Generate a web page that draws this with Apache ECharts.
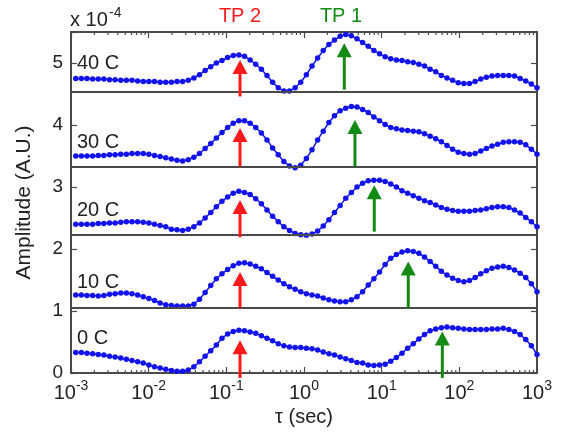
<!DOCTYPE html>
<html><head><meta charset="utf-8">
<script src="https://cdn.jsdelivr.net/npm/echarts@6/dist/echarts.min.js"></script>
<style>html,body{margin:0;padding:0;background:#fff}#c{width:563px;height:438px}</style>
</head><body><div id="c"></div>
<script>
// ---- data ----
const temps = ['0 C', '10 C', '20 C', '30 C', '40 C'];
// log-uniform sampling grid of tau (sec): 83 points from 10^-2.939 to 10^3
const tauGrid = Array.from({length: 83}, (_, i) => Math.pow(10, -2.939 + i * (5.939 / 82)));

const amp0C = [0.33,0.33,0.32,0.31,0.30,0.29,0.27,0.26,0.24,0.22,0.20,0.18,0.16,0.13,0.10,0.08,0.06,0.04,0.03,0.03,0.05,
  0.10,0.18,0.27,0.36,0.45,0.56,0.63,0.67,0.69,0.68,0.66,0.64,0.60,0.56,0.52,0.47,0.44,0.42,0.41,0.41,0.40,0.39,0.37,0.34,0.31,0.29,0.26,0.23,0.20,0.17,0.16,0.13,0.12,0.13,0.14,0.19,0.25,0.32,0.40,0.47,0.55,0.62,0.68,0.71,0.73,0.74,0.73,0.72,0.71,0.70,0.70,0.70,0.70,0.71,0.71,0.72,0.70,0.67,0.62,0.54,0.44,0.30];
const amp10C = [1.26,1.26,1.25,1.25,1.24,1.25,1.27,1.28,1.29,1.29,1.28,1.26,1.23,1.20,1.17,1.13,1.10,1.09,1.08,1.08,1.08,
  1.11,1.19,1.30,1.41,1.52,1.60,1.67,1.73,1.77,1.78,1.76,1.72,1.68,1.62,1.56,1.50,1.44,1.39,1.35,1.31,1.28,1.26,1.24,1.21,1.18,1.16,1.15,1.15,1.18,1.23,1.31,1.42,1.52,1.63,1.75,1.85,1.91,1.95,1.97,1.96,1.93,1.87,1.80,1.72,1.64,1.58,1.53,1.49,1.47,1.49,1.54,1.60,1.65,1.69,1.71,1.72,1.70,1.66,1.61,1.54,1.44,1.31];
const amp20C = [2.40,2.40,2.40,2.40,2.41,2.41,2.42,2.42,2.43,2.44,2.44,2.44,2.43,2.42,2.40,2.38,2.36,2.32,2.31,2.30,2.32,
  2.36,2.42,2.50,2.59,2.68,2.77,2.84,2.90,2.93,2.91,2.88,2.81,2.73,2.63,2.53,2.44,2.36,2.30,2.25,2.23,2.22,2.24,2.29,2.37,2.47,2.59,2.70,2.82,2.91,3.00,3.06,3.10,3.11,3.11,3.09,3.05,3.00,2.94,2.90,2.86,2.82,2.78,2.75,2.71,2.67,2.64,2.62,2.61,2.61,2.61,2.62,2.63,2.65,2.67,2.68,2.68,2.67,2.63,2.58,2.51,2.44,2.36];
const amp30C = [3.50,3.50,3.50,3.50,3.51,3.51,3.52,3.52,3.53,3.53,3.54,3.54,3.54,3.53,3.51,3.49,3.47,3.45,3.43,3.42,3.44,
  3.48,3.54,3.62,3.70,3.79,3.88,3.96,4.03,4.07,4.07,4.03,3.96,3.87,3.76,3.63,3.52,3.41,3.34,3.31,3.35,3.46,3.60,3.76,3.90,4.04,4.15,4.23,4.27,4.30,4.29,4.25,4.20,4.13,4.07,4.01,3.96,3.94,3.92,3.91,3.90,3.89,3.86,3.82,3.78,3.73,3.67,3.61,3.56,3.54,3.53,3.54,3.58,3.62,3.66,3.69,3.72,3.73,3.73,3.72,3.68,3.61,3.53];
const amp40C = [4.75,4.75,4.75,4.74,4.74,4.74,4.73,4.73,4.72,4.72,4.72,4.71,4.70,4.70,4.70,4.69,4.69,4.69,4.70,4.70,4.72,
  4.76,4.81,4.88,4.94,5.00,5.04,5.09,5.12,5.13,5.11,5.05,4.98,4.90,4.80,4.69,4.60,4.55,4.55,4.60,4.69,4.81,4.95,5.08,5.20,5.30,5.37,5.43,5.46,5.44,5.39,5.33,5.27,5.20,5.15,5.10,5.07,5.05,5.04,5.02,5.01,4.98,4.95,4.90,4.86,4.80,4.76,4.72,4.68,4.67,4.67,4.70,4.74,4.77,4.79,4.80,4.80,4.80,4.79,4.75,4.71,4.66,4.60];
const amplitudes = [amp0C, amp10C, amp20C, amp30C, amp40C];

// panel separator levels
const separators = [1.05, 2.23, 3.33, 4.53];

// TP2 (red) and TP1 (green) arrows: tau, base level, tip level (per temperature 0..40 C)
const tp2Tau = [0.150, 0.150, 0.150, 0.150, 0.150];
const tp2Base = [-0.08, 1.05, 2.19, 3.33, 4.46];
const tp2Tip = [0.53, 1.63, 2.79, 3.95, 5.05];
const tp1Tau = [60.4, 22.0, 8.03, 4.53, 3.30];
const tp1Base = [-0.08, 1.05, 2.28, 3.33, 4.57];
const tp1Tip = [0.67, 1.80, 3.03, 4.08, 5.32];

// axis ticks
const xMajorTicks = [1e-3, 1e-2, 1e-1, 1e0, 1e1, 1e2, 1e3];
const xMinorTicks = [];
for (let e = -3; e < 3; e++) for (let k = 2; k <= 9; k++) xMinorTicks.push(k * Math.pow(10, e));
const yTickLabels = ['0', '1', '2', '3', '4', '5'];

// ---- style ----
const FF = 'Liberation Sans, Arial, Helvetica, sans-serif';
const AXIS = '#4a4a4a';
const TXT = '#222222';
const BLUE = '#1212ee';
const RED = '#ff1a1a';
const GREEN = '#138a13';

const chart = echarts.init(document.getElementById('c'), null, {renderer: 'canvas'});

const lineSeries = amplitudes.map((arr, s) => ({
  type: 'line', name: temps[s], xAxisIndex: 0, yAxisIndex: 0, z: 3,
  data: tauGrid.map((t, i) => [t, arr[i]]),
  symbol: 'circle', symbolSize: 5.5, showSymbol: true,
  lineStyle: {color: BLUE, width: 1.5},
  itemStyle: {color: BLUE},
  silent: true
}));

const arrowData = [];
temps.forEach((_, s) => {
  arrowData.push([tp2Tau[s], tp2Base[s], tp2Tip[s], 0]);
  arrowData.push([tp1Tau[s], tp1Base[s], tp1Tip[s], 1]);
});

const option = {
  animation: false,
  backgroundColor: '#ffffff',
  grid: {left: 71, right: 26, top: 32, bottom: 65, containLabel: false},
  xAxis: [{
    type: 'log', logBase: 10, min: xMajorTicks[0], max: xMajorTicks[xMajorTicks.length - 1], splitNumber: 6,
    position: 'bottom',
    axisLine: {show: true, onZero: false, lineStyle: {color: AXIS, width: 2}},
    axisTick: {show: true, inside: true, length: 6, lineStyle: {color: AXIS, width: 1.2}},
    axisLabel: {
      margin: 6, color: TXT,
      formatter: v => '{b|10}{s|' + Math.round(Math.log10(v)) + '}',
      rich: {
        b: {fontSize: 20, fontFamily: FF, color: TXT, verticalAlign: 'bottom', lineHeight: 24},
        s: {fontSize: 14, fontFamily: FF, color: TXT, verticalAlign: 'top', lineHeight: 14}
      }
    },
    splitLine: {show: false},
    name: 'τ (sec)', nameLocation: 'middle', nameGap: 23,
    nameTextStyle: {fontSize: 20, color: TXT, fontFamily: FF}
  }, {
    type: 'log', logBase: 10, min: xMajorTicks[0], max: xMajorTicks[xMajorTicks.length - 1], splitNumber: 6,
    position: 'top',
    axisLine: {show: true, onZero: false, lineStyle: {color: AXIS, width: 2}},
    axisTick: {show: true, inside: true, length: 6, lineStyle: {color: AXIS, width: 1.2}},
    axisLabel: {show: false},
    splitLine: {show: false}
  }],
  yAxis: [{
    type: 'value', min: 0, max: 5.5, interval: 1, position: 'left',
    axisLine: {show: true, lineStyle: {color: AXIS, width: 2}},
    axisTick: {show: true, inside: true, length: 6, lineStyle: {color: AXIS, width: 1.2}},
    axisLabel: {
      margin: 8, fontSize: 19, color: TXT, fontFamily: FF,
      formatter: v => (Number.isInteger(v) ? yTickLabels[v] : '')
    },
    splitLine: {show: false},
    name: 'Amplitude (A.U.)', nameLocation: 'middle', nameGap: 36,
    nameTextStyle: {fontSize: 21, color: TXT, fontFamily: FF}
  }, {
    type: 'value', min: 0, max: 5.5, interval: 1, position: 'right',
    axisLine: {show: true, lineStyle: {color: AXIS, width: 2}},
    axisTick: {show: true, inside: true, length: 6, lineStyle: {color: AXIS, width: 1.2}},
    axisLabel: {show: false},
    splitLine: {show: false}
  }],
  series: [
    {
      type: 'line', data: [], xAxisIndex: 0, yAxisIndex: 0, z: 1, silent: true,
      markLine: {
        silent: true, symbol: ['none', 'none'], label: {show: false}, animation: false,
        lineStyle: {color: AXIS, width: 2, type: 'solid'},
        emphasis: {disabled: true},
        data: separators.map(v => ({yAxis: v}))
      }
    },
    {
      type: 'custom', xAxisIndex: 0, yAxisIndex: 0, z: 2, silent: true,
      data: xMinorTicks.map(t => [t, 0]),
      encode: {x: 0, y: 1},
      renderItem: (params, api) => {
        const cs = params.coordSys;
        const px = api.coord([api.value(0), 0])[0];
        const bottom = cs.y + cs.height, top = cs.y;
        return {type: 'group', children: [
          {type: 'line', shape: {x1: px, y1: bottom, x2: px, y2: bottom - 3}, style: {stroke: AXIS, lineWidth: 1.2}},
          {type: 'line', shape: {x1: px, y1: top, x2: px, y2: top + 3}, style: {stroke: AXIS, lineWidth: 1.2}}
        ]};
      }
    },
    ...lineSeries,
    {
      type: 'custom', xAxisIndex: 0, yAxisIndex: 0, z: 5, silent: true, clip: false,
      data: arrowData,
      encode: {x: 0, y: [1, 2]},
      renderItem: (params, api) => {
        const t = api.value(0);
        const p0 = api.coord([t, api.value(1)]);
        const p1 = api.coord([t, api.value(2)]);
        const color = api.value(3) === 0 ? RED : GREEN;
        const hh = 14, hw = 15;
        return {type: 'group', children: [
          {type: 'line', shape: {x1: p0[0], y1: p0[1], x2: p1[0], y2: p1[1] + hh - 1}, style: {stroke: color, lineWidth: 3}},
          {type: 'polygon', shape: {points: [[p1[0], p1[1]], [p1[0] - hw / 2, p1[1] + hh], [p1[0] + hw / 2, p1[1] + hh]]}, style: {fill: color}}
        ]};
      }
    }
  ],
  graphic: [
    {type: 'text', x: 70, y: 20, silent: true, style: {text: 'x 10', fill: TXT, font: '20px ' + FF, align: 'left', verticalAlign: 'middle'}},
    {type: 'text', x: 109, y: 13, silent: true, style: {text: '-4', fill: TXT, font: '14px ' + FF, align: 'left', verticalAlign: 'middle'}},
    {type: 'text', x: 240, y: 16, silent: true, style: {text: 'TP 2', fill: RED, font: '20px ' + FF, align: 'center', verticalAlign: 'middle'}},
    {type: 'text', x: 341, y: 16, silent: true, style: {text: 'TP 1', fill: GREEN, font: '20px ' + FF, align: 'center', verticalAlign: 'middle'}},
    ...[338, 282, 210, 142, 63].map((y, s) => ({
      type: 'text', x: 77, y: y, silent: true,
      style: {text: temps[s], fill: TXT, font: '20px ' + FF, align: 'left', verticalAlign: 'middle'}
    }))
  ]
};
chart.setOption(option);
</script>
</body></html>
